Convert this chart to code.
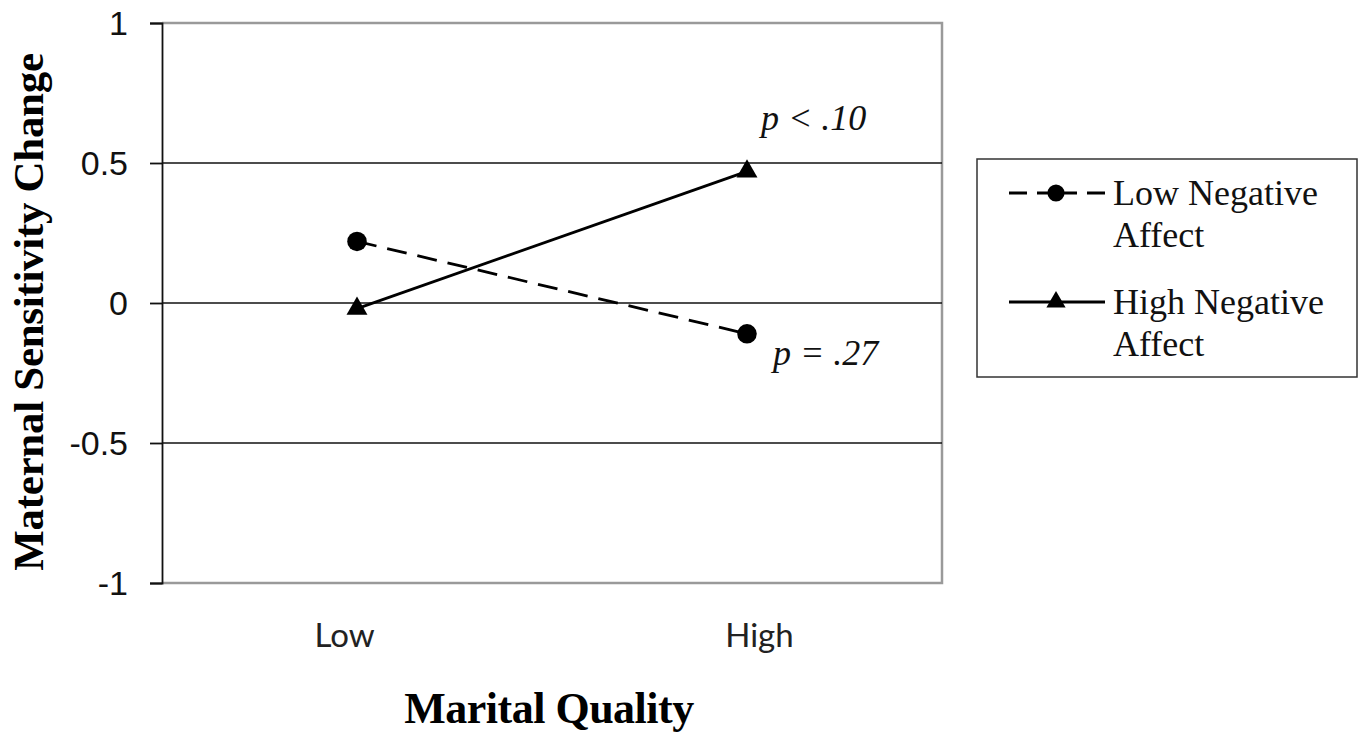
<!DOCTYPE html>
<html>
<head>
<meta charset="utf-8">
<script src="https://cdn.jsdelivr.net/npm/d3@7"></script>
<style>
  body { margin: 0; background: #fff; }
</style>
</head>
<body>
<div id="chart"></div>
<script>
// data
const categories = ['Low', 'High'];
const seriesNames = ['Low Negative Affect', 'High Negative Affect'];
const lowNegValues = [0.22, -0.11];
const highNegValues = [-0.02, 0.47];
const yTicks = [-1, -0.5, 0, 0.5, 1];
const gridValues = [-0.5, 0, 0.5];
const pLabels = ['p = .27', 'p < .10'];

const w = 1361;
const h = 737;
const plot = { left: 162, right: 942, top: 23, bottom: 583 };

const svg = d3
  .select('#chart')
  .append('svg')
  .attr('width', w)
  .attr('height', h);

const xScale = d3
  .scalePoint()
  .domain(categories)
  .range([plot.left, plot.right])
  .padding(0.5);

// Excel put the category text a little wider apart than the markers
const labelScale = xScale.copy().padding(0.44);

const yScale = d3
  .scaleLinear()
  .domain([-1, 1])
  .range([plot.bottom, plot.top]);

// plot frame (grey, top/right/bottom)
svg
  .append('path')
  .attr(
    'd',
    `M${plot.left},${plot.top}H${plot.right}V${plot.bottom}H${plot.left}`
  )
  .attr('fill', 'none')
  .attr('stroke', '#9a9a9a')
  .attr('stroke-width', 2.5);

// gridlines
svg
  .selectAll('.grid')
  .data(gridValues)
  .enter()
  .append('line')
  .attr('class', 'grid')
  .attr('x1', plot.left)
  .attr('x2', plot.right)
  .attr('y1', (d) => yScale(d))
  .attr('y2', (d) => yScale(d))
  .attr('stroke', '#111')
  .attr('stroke-width', 1.7);

// y axis
const yAxis = d3
  .axisLeft(yScale)
  .tickValues(yTicks)
  .tickSize(12)
  .tickPadding(22)
  .tickFormat((d) => String(d));

const yg = svg
  .append('g')
  .attr('transform', 'translate(' + plot.left + ',0)')
  .call(yAxis);

yg.select('.domain').attr('stroke', '#111').attr('stroke-width', 1.8);
yg.selectAll('.tick line').attr('stroke', '#111').attr('stroke-width', 1.8);
yg.selectAll('.tick text')
  .attr('font-family', 'Liberation Sans, Arial, sans-serif')
  .attr('font-size', 34)
  .attr('fill', '#111')
  .attr('dy', '0.35em');

// category labels
svg
  .selectAll('.cat')
  .data(categories)
  .enter()
  .append('text')
  .attr('class', 'cat')
  .attr('x', (d) => labelScale(d))
  .attr('y', 647)
  .attr('text-anchor', 'middle')
  .attr('font-family', 'Lato, Open Sans, sans-serif')
  .attr('font-size', 33)
  .attr('fill', '#222')
  .text((d) => d);

// axis titles
svg
  .append('text')
  .attr('x', (plot.left + plot.right) / 2 - 3)
  .attr('y', 723)
  .attr('text-anchor', 'middle')
  .attr('font-family', 'Liberation Serif, Times New Roman, serif')
  .attr('font-weight', 'bold')
  .attr('font-size', 44)
  .attr('letter-spacing', -0.5)
  .text('Marital Quality');

svg
  .append('text')
  .attr('transform', 'translate(43,' + 312 + ') rotate(-90)')
  .attr('text-anchor', 'middle')
  .attr('font-family', 'Liberation Serif, Times New Roman, serif')
  .attr('font-weight', 'bold')
  .attr('font-size', 43)
  .attr('letter-spacing', -0.3)
  .text('Maternal Sensitivity Change');

// series lines
const line = d3
  .line()
  .x((d, i) => xScale(categories[i]))
  .y((d) => yScale(d));

svg
  .append('path')
  .datum(lowNegValues)
  .attr('d', line)
  .attr('fill', 'none')
  .attr('stroke', '#000')
  .attr('stroke-width', 2.8)
  .attr('stroke-dasharray', '20,11');

svg
  .append('path')
  .datum(highNegValues)
  .attr('d', line)
  .attr('fill', 'none')
  .attr('stroke', '#000')
  .attr('stroke-width', 2.8);

// markers
const circleSym = d3.symbol().type(d3.symbolCircle).size(300);
const triSym = d3.symbol().type(d3.symbolTriangle).size(190);

svg
  .selectAll('.dot')
  .data(lowNegValues)
  .enter()
  .append('path')
  .attr('class', 'dot')
  .attr('d', circleSym)
  .attr(
    'transform',
    (d, i) => 'translate(' + xScale(categories[i]) + ',' + yScale(d) + ')'
  )
  .attr('fill', '#000');

svg
  .selectAll('.tri')
  .data(highNegValues)
  .enter()
  .append('path')
  .attr('class', 'tri')
  .attr('d', triSym)
  .attr(
    'transform',
    (d, i) => 'translate(' + xScale(categories[i]) + ',' + yScale(d) + ')'
  )
  .attr('fill', '#000');

// p value notes next to the "High" points
const last = categories.length - 1;
svg
  .append('text')
  .attr('x', xScale(categories[last]) + 26)
  .attr('y', yScale(lowNegValues[last]) + 31)
  .attr('font-family', 'Liberation Serif, Times New Roman, serif')
  .attr('font-style', 'italic')
  .attr('font-size', 36)
  .attr('fill', '#111')
  .attr('xml:space', 'preserve')
  .text(pLabels[0]);

svg
  .append('text')
  .attr('x', xScale(categories[last]) + 14)
  .attr('y', yScale(highNegValues[last]) - 41)
  .attr('font-family', 'Liberation Serif, Times New Roman, serif')
  .attr('font-style', 'italic')
  .attr('font-size', 36)
  .attr('fill', '#111')
  .attr('xml:space', 'preserve')
  .text(pLabels[1]);

// legend
const legend = svg.append('g').attr('transform', 'translate(977,159)');

legend
  .append('rect')
  .attr('width', 380)
  .attr('height', 218)
  .attr('fill', '#fff')
  .attr('stroke', '#333')
  .attr('stroke-width', 1.5);

const legendRows = legend
  .selectAll('.row')
  .data(seriesNames)
  .enter()
  .append('g')
  .attr('class', 'row')
  .attr('transform', (d, i) => 'translate(0,' + (34 + i * 109) + ')');

legendRows
  .append('line')
  .attr('x1', 32)
  .attr('x2', 128)
  .attr('stroke', '#000')
  .attr('stroke-width', 2.8)
  .attr('stroke-dasharray', (d, i) => (i === 0 ? '18,10,40,10,18' : null));

legendRows
  .append('path')
  .attr('d', (d, i) =>
    i === 0
      ? d3.symbol().type(d3.symbolCircle).size(230)()
      : d3.symbol().type(d3.symbolTriangle).size(160)()
  )
  .attr('transform', 'translate(79,0)')
  .attr('fill', '#000');

legendRows.each(function (d) {
  const words = d.split(' ');
  const t = d3
    .select(this)
    .append('text')
    .attr('font-family', 'Liberation Serif, Times New Roman, serif')
    .attr('font-size', 36)
    .attr('fill', '#111');
  t.append('tspan').attr('x', 136).attr('y', 12).text(words.slice(0, 2).join(' '));
  t.append('tspan').attr('x', 136).attr('y', 54).text(words.slice(2).join(' '));
});
</script>
</body>
</html>
